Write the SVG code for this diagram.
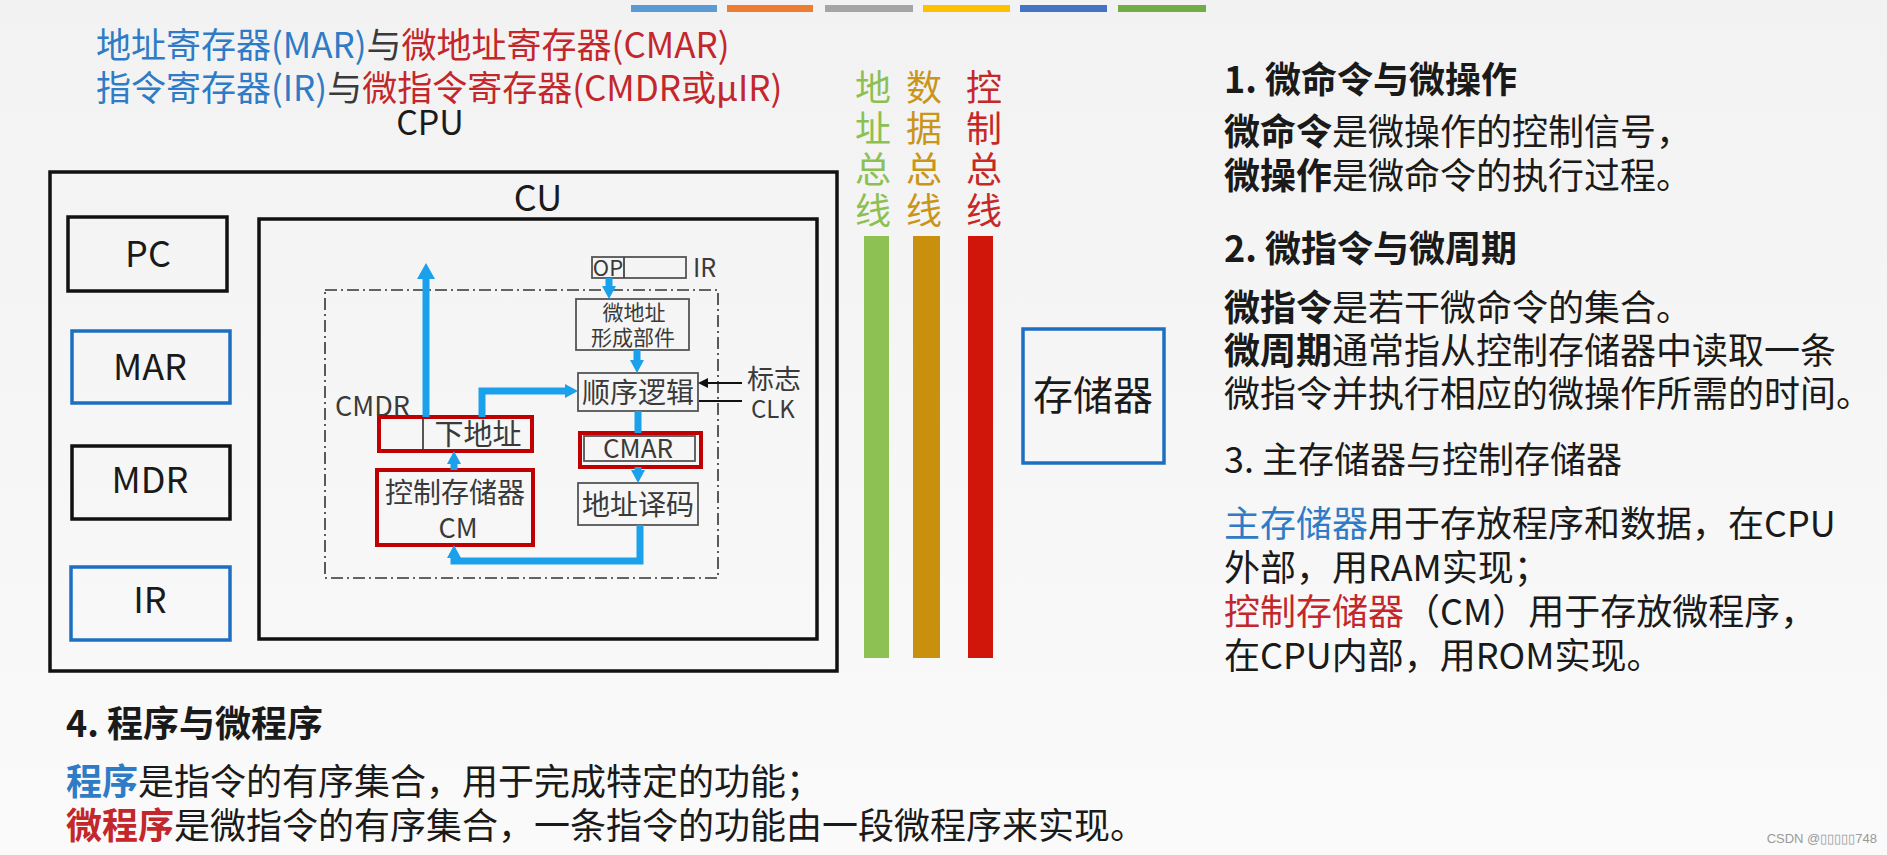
<svg xmlns="http://www.w3.org/2000/svg" width="1887" height="855" viewBox="0 0 1887 855">
<style>
text{font-family:"Noto Sans CJK SC","Noto Sans",sans-serif;}
.t36{font-size:36px;fill:#1a1a1a;}
.t35{font-size:35px;fill:#1a1a1a;}
.blue{fill:#2F7BC6;}
.red{fill:#C3272B;}
.gray{fill:#3a3a3a;}
.b{font-weight:700;}
.reg{fill:none;stroke:#111;stroke-width:3.5;}
.regb{fill:none;stroke:#1D6FC2;stroke-width:3.5;}
.sm{fill:none;stroke:#555;stroke-width:1.8;}
.rbox{fill:none;stroke:#C00000;stroke-width:4;}
.ctr{text-anchor:middle;}
.in{fill:#3a3a3a;}
.arr{fill:none;stroke:#1BA1EC;stroke-width:7;stroke-linejoin:miter;}
.sig{fill:none;stroke:#111;stroke-width:2;}
</style>
<defs>
<marker id="ah" viewBox="0 0 16 18" markerWidth="16" markerHeight="18" refX="0" refY="9" orient="auto" markerUnits="userSpaceOnUse"><path d="M0,0 L16,9 L0,18 z" fill="#1BA1EC"/></marker>
<marker id="ah2" viewBox="0 0 13 14" markerWidth="13" markerHeight="14" refX="0" refY="7" orient="auto" markerUnits="userSpaceOnUse"><path d="M0,0 L13,7 L0,14 z" fill="#1BA1EC"/></marker>
<marker id="kh" viewBox="0 0 10 10" markerWidth="10" markerHeight="10" refX="0" refY="5" orient="auto" markerUnits="userSpaceOnUse"><path d="M0,0 L10,5 L0,10 z" fill="#111"/></marker>
<linearGradient id="bg" x1="0" y1="0" x2="0" y2="1"><stop offset="0" stop-color="#F2F2F2"/><stop offset="1" stop-color="#FAFAFA"/></linearGradient>
</defs>
<rect width="1887" height="855" fill="url(#bg)"/>

<g id="topbars">
<rect x="631" y="5" width="86" height="7" fill="#5B9BD5"/>
<rect x="727" y="5" width="86" height="7" fill="#ED7D31"/>
<rect x="825" y="5" width="88" height="7" fill="#A5A5A5"/>
<rect x="923" y="5" width="87" height="7" fill="#FFC000"/>
<rect x="1020" y="5" width="87" height="7" fill="#4472C4"/>
<rect x="1118" y="5" width="88" height="7" fill="#70AD47"/>
</g>

<g id="title">
<text x="96" y="58" class="t35"><tspan class="blue">地址寄存器(MAR)</tspan><tspan class="gray">与</tspan><tspan class="red">微地址寄存器(CMAR)</tspan></text>
<text x="96" y="101" class="t35"><tspan class="blue">指令寄存器(IR)</tspan><tspan class="gray">与</tspan><tspan class="red">微指令寄存器(CMDR或μIR)</tspan></text>
</g>

<g id="cpu">
<rect x="50" y="172" width="787" height="499" class="reg"/>
<text x="430" y="135" class="ctr" style="font-size:34px;fill:#1a1a1a">CPU</text>
</g>
<g id="pc"><rect x="68" y="217" width="159" height="74" class="reg"/><text x="148" y="267" class="t36 ctr">PC</text></g>
<g id="mar"><rect x="72" y="331" width="158" height="72" class="regb"/><text x="150" y="380" class="t36 ctr">MAR</text></g>
<g id="mdr"><rect x="72" y="446" width="158" height="73" class="reg"/><text x="150" y="493" class="t36 ctr">MDR</text></g>
<g id="ir"><rect x="71" y="567" width="159" height="73" class="regb"/><text x="150" y="613" class="t36 ctr">IR</text></g>

<g id="cu">
<rect x="259" y="219" width="558" height="420" class="reg"/>
<text x="538" y="211" class="t36 ctr">CU</text>
<rect x="325" y="290" width="393" height="288" fill="none" stroke="#333" stroke-width="1.6" stroke-dasharray="12,4,2,4"/>
</g>

<g id="ir-small">
<rect x="592" y="257" width="94" height="21" class="sm" stroke="#444"/>
<line x1="624" y1="257" x2="624" y2="278" stroke="#444" stroke-width="1.8"/>
<text x="608" y="276" style="font-size:22px" class="in ctr">OP</text>
<text x="693" y="277" style="font-size:25px" class="in">IR</text>
</g>
<g id="uaddr-gen">
<rect x="576" y="299" width="113" height="51" class="sm"/>
<text x="634" y="320" style="font-size:21px" class="in ctr">微地址</text>
<text x="633" y="345" style="font-size:21px" class="in ctr">形成部件</text>
</g>
<g id="seq-logic">
<rect x="578" y="373" width="120" height="38" class="sm"/>
<text x="638" y="403" style="font-size:28px" class="in ctr">顺序逻辑</text>
</g>
<g id="cmar">
<rect x="580" y="433" width="121" height="34" class="rbox"/>
<rect x="584" y="436" width="111" height="25" class="sm"/>
<text x="638" y="458" style="font-size:26px" class="in ctr">CMAR</text>
</g>
<g id="addr-dec">
<rect x="578" y="483" width="120" height="42" class="sm"/>
<text x="638" y="515" style="font-size:28px" class="in ctr">地址译码</text>
</g>
<g id="cmdr">
<rect x="379" y="417" width="153" height="34" class="rbox"/>
<line x1="423" y1="419" x2="423" y2="449" stroke="#444" stroke-width="1.8"/>
<text x="478" y="445" style="font-size:29px" class="in ctr">下地址</text>
<text x="335" y="416" style="font-size:27px" class="in">CMDR</text>
</g>
<g id="cm">
<rect x="377" y="470" width="156" height="75" class="rbox"/>
<text x="455" y="503" style="font-size:28px" class="in ctr">控制存储器</text>
<text x="458" y="538" style="font-size:27px" class="in ctr">CM</text>
</g>
<g id="signals">
<text x="747" y="389" style="font-size:27px" class="in">标志</text>
<text x="751" y="418" style="font-size:24px" class="in">CLK</text>
</g>

<g id="connectors">
<path d="M426,417 V279" class="arr" marker-end="url(#ah)"/>
<path d="M482,417 V391 H565" class="arr" marker-end="url(#ah2)"/>
<path d="M609,278 V286" class="arr" marker-end="url(#ah2)"/>
<path d="M637,350 V360" class="arr" marker-end="url(#ah2)"/>
<path d="M638,411 V433" class="arr"/>
<path d="M638,467 V470" class="arr" marker-end="url(#ah2)"/>
<path d="M640,525 V561 H454 V558" class="arr" marker-end="url(#ah2)"/>
<path d="M454,470 V464" class="arr" marker-end="url(#ah2)"/>
<path d="M742,383 H708" class="sig" marker-end="url(#kh)"/>
<path d="M742,401 H699" class="sig"/>
</g>

<g id="bus-addr">
<text x="873" y="101" class="t36 ctr" style="fill:#8CC152">地</text>
<text x="873" y="142" class="t36 ctr" style="fill:#8CC152">址</text>
<text x="873" y="183" class="t36 ctr" style="fill:#8CC152">总</text>
<text x="873" y="224" class="t36 ctr" style="fill:#8CC152">线</text>
<rect x="864" y="236" width="25" height="422" fill="#8DC153"/>
</g>
<g id="bus-data">
<text x="924" y="101" class="t36 ctr" style="fill:#C9961A">数</text>
<text x="924" y="142" class="t36 ctr" style="fill:#C9961A">据</text>
<text x="924" y="183" class="t36 ctr" style="fill:#C9961A">总</text>
<text x="924" y="224" class="t36 ctr" style="fill:#C9961A">线</text>
<rect x="913" y="236" width="27" height="422" fill="#C8900C"/>
</g>
<g id="bus-ctrl">
<text x="984" y="101" class="t36 ctr" style="fill:#C62828">控</text>
<text x="984" y="142" class="t36 ctr" style="fill:#C62828">制</text>
<text x="984" y="183" class="t36 ctr" style="fill:#C62828">总</text>
<text x="984" y="224" class="t36 ctr" style="fill:#C62828">线</text>
<rect x="968" y="236" width="25" height="422" fill="#D0150A"/>
</g>

<g id="memory">
<rect x="1023" y="329" width="141" height="134" class="regb"/>
<text x="1093" y="410" class="ctr" style="font-size:40px;fill:#1a1a1a">存储器</text>
</g>

<g id="notes">
<text x="1224" y="93" class="t36 b">1. 微命令与微操作</text>
<text x="1224" y="145" class="t36"><tspan class="b">微命令</tspan>是微操作的控制信号，</text>
<text x="1224" y="189" class="t36"><tspan class="b">微操作</tspan>是微命令的执行过程。</text>
<text x="1224" y="262" class="t36 b">2. 微指令与微周期</text>
<text x="1224" y="321" class="t36"><tspan class="b">微指令</tspan>是若干微命令的集合。</text>
<text x="1224" y="364" class="t36"><tspan class="b">微周期</tspan>通常指从控制存储器中读取一条</text>
<text x="1224" y="407" class="t36">微指令并执行相应的微操作所需的时间。</text>
<text x="1224" y="473" class="t36">3. 主存储器与控制存储器</text>
<text x="1224" y="537" class="t36"><tspan class="blue">主存储器</tspan>用于存放程序和数据，在CPU</text>
<text x="1224" y="581" class="t36">外部，用RAM实现；</text>
<text x="1224" y="625" class="t36"><tspan class="red">控制存储器</tspan>（CM）用于存放微程序，</text>
<text x="1224" y="669" class="t36">在CPU内部，用ROM实现。</text>
<text x="66" y="737" class="t36 b">4. 程序与微程序</text>
<text x="66" y="795" class="t36"><tspan class="blue b">程序</tspan>是指令的有序集合，用于完成特定的功能；</text>
<text x="66" y="839" class="t36"><tspan class="red b">微程序</tspan>是微指令的有序集合，一条指令的功能由一段微程序来实现。</text>
</g>

<text x="1877" y="843" style="font-family:'Liberation Sans',sans-serif;font-size:13px;fill:#999;text-anchor:end">CSDN @▯▯▯▯▯748</text>
</svg>
